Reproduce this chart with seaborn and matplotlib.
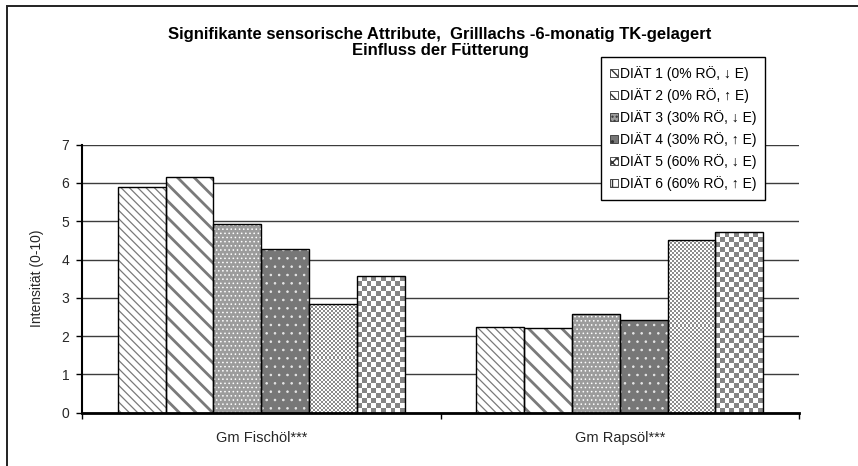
import numpy as np
import pandas as pd
import matplotlib
matplotlib.use('Agg')
import matplotlib.pyplot as plt
import seaborn as sns
from matplotlib.patches import Rectangle, Patch
from matplotlib.colors import ListedColormap

# Data
attributes = ['Gm Fischöl***', 'Gm Rapsöl***']
diets = ['DIÄT 1 (0% RÖ, \u2193 E)', 'DIÄT 2 (0% RÖ, \u2191 E)',
         'DIÄT 3 (30% RÖ, \u2193 E)', 'DIÄT 4 (30% RÖ, \u2191 E)',
         'DIÄT 5 (60% RÖ, \u2193 E)', 'DIÄT 6 (60% RÖ, \u2191 E)']
fischoel = [5.90, 6.15, 4.92, 4.28, 2.83, 3.57]
rapsoel = [2.25, 2.22, 2.57, 2.42, 4.50, 4.72]
yticks = list(range(0, 8))

df = pd.DataFrame({
    'attribut': [attributes[0]] * 6 + [attributes[1]] * 6,
    'diaet': diets * 2,
    'wert': fischoel + rapsoel,
})

# bar styles per diet: face, hatch colour, hatch, hatch lw, checker (cell px, colour)
styles = [
    dict(face='white', hc='#7a7a7a', hatch='\\\\\\\\', lw=0.9, checker=None),
    dict(face='white', hc='#7a7a7a', hatch='\\\\', lw=2.0, checker=None),
    dict(face='#9c9c9c', hc='white', hatch='....', lw=0.6, checker=None),
    dict(face='#777777', hc='#e8e8e8', hatch='..', lw=0.6, checker=None),
    dict(face='white', hc='#8c8c8c', hatch='xxxx', lw=0.8, checker=(2, '#8c8c8c')),
    dict(face='white', hc='#858585', hatch='++', lw=1.5, checker=(5, '#858585')),
]

sns.set_style('white')
plt.rcParams['font.family'] = ['Liberation Sans', 'DejaVu Sans']
plt.rcParams['text.color'] = 'black'

fig = plt.figure(figsize=(8.58, 4.66), dpi=100)
ax = fig.add_axes([82 / 858, 1 - 412.7 / 466, 717 / 858, (412.7 - 144.6) / 466])

sns.barplot(data=df, x='attribut', y='wert', hue='diaet', order=attributes,
            hue_order=diets, errorbar=None, legend=False, ax=ax, width=0.8)

ax.set_xlim(-0.5, 1.5)
ax.set_ylim(0, 7)
ax.set_yticks(yticks)
ax.set_axisbelow(True)
ax.yaxis.grid(True, color='#3c3c3c', lw=1.0)
ax.xaxis.grid(False)

# redraw each bar: pattern layer underneath, black outline on top
bars = sorted(ax.patches, key=lambda p: p.get_x())
for i, p in enumerate(bars):
    st = styles[i % 6]
    x0, y0, w, h = p.get_x(), p.get_y(), p.get_width(), p.get_height()
    with plt.rc_context({'hatch.linewidth': st['lw']}):
        under = Rectangle((x0, y0), w, h, facecolor=st['face'], edgecolor=st['hc'],
                          hatch=None if st['checker'] else st['hatch'], lw=0, zorder=2)
        if hasattr(under, 'set_hatch_linewidth'):
            under.set_hatch_linewidth(st['lw'])
    ax.add_patch(under)
    if st['checker']:
        cell, col = st['checker']
        (px0, py0), (px1, py1) = ax.transData.transform([(x0, y0), (x0 + w, y0 + h)])
        nx = max(1, int(round((px1 - px0) / cell)))
        ny = max(1, int(round((py1 - py0) / cell)))
        grid = np.add.outer(np.arange(ny), np.arange(nx)) % 2
        ax.imshow(grid, cmap=ListedColormap(['white', col]), extent=[x0, x0 + w, y0, y0 + h],
                  interpolation='nearest', aspect='auto', zorder=2.5, origin='lower')
    p.set_facecolor('none')
    p.set_edgecolor('black')
    p.set_linewidth(1.0)
    p.set_zorder(3)

ax.set_xlim(-0.5, 1.5)
ax.set_ylim(0, 7)

# axes styling
for s in ['top', 'right']:
    ax.spines[s].set_visible(False)
ax.spines['left'].set_color('black')
ax.spines['left'].set_linewidth(1.5)
ax.spines['bottom'].set_color('black')
ax.spines['bottom'].set_linewidth(2.0)
ax.spines['left'].set_zorder(4)
ax.spines['bottom'].set_zorder(4)

ax.tick_params(axis='y', which='major', left=True, length=4, width=1, color='black',
               labelsize=10, pad=5, direction='out')
ax.tick_params(axis='x', which='major', length=0, labelsize=10.5, pad=13)
ax.set_xticks([-0.5, 0.5, 1.5], minor=True)
ax.tick_params(axis='x', which='minor', bottom=True, length=4, width=1, color='black')
ax.set_xlabel('')
ax.set_ylabel('Intensität (0-10)', fontsize=10, labelpad=13)

# title, centred over the plot area
fig.text(440 / 858, 1 - 42.5 / 466,
         'Signifikante sensorische Attribute,  Grilllachs -6-monatig TK-gelagert\nEinfluss der Fütterung',
         ha='center', va='center', multialignment='center', fontsize=12,
         fontweight='bold', linespacing=1.1)

# legend
handles = [Patch(facecolor=st['face'], edgecolor='#333333', hatch=st['hatch'], lw=0.6)
           for st in styles]
leg = fig.legend(handles, diets, loc='upper left', bbox_to_anchor=(600.5 / 858, 1 - 57 / 466),
                 fontsize=10, frameon=True, fancybox=False, shadow=False,
                 handlelength=0.6, handleheight=0.5, handletextpad=0.15,
                 labelspacing=0.5, borderpad=0.65, borderaxespad=0)
leg.get_frame().set_edgecolor('black')
leg.get_frame().set_linewidth(1.0)
leg.get_frame().set_facecolor('white')
leg.get_frame().set_alpha(1)

# outer chart border (top and left visible)
fig.add_artist(Rectangle((7 / 858, -0.1), 2, 1.1 - 6 / 466, transform=fig.transFigure,
                         fill=False, edgecolor='#222222', lw=1.4))

fig.savefig('out.png', dpi=100)
